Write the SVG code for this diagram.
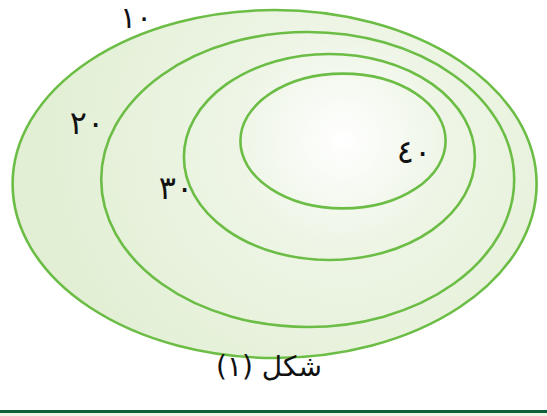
<svg xmlns="http://www.w3.org/2000/svg" width="547" height="416" viewBox="0 0 547 416">
<style>
.ring{stroke:#6cbd45;stroke-width:2.6}
.lbl{font-family:"DejaVu Sans",sans-serif;font-size:32px;fill:#111}
.cap{font-family:"DejaVu Sans",sans-serif;font-size:28px;fill:#111}
</style>
<defs>
<radialGradient id="g" gradientUnits="userSpaceOnUse" cx="342" cy="140" r="300">
<stop offset="0" stop-color="#ffffff"/>
<stop offset="0.35" stop-color="#eef5e6"/>
<stop offset="1" stop-color="#e2efd4"/>
</radialGradient>
</defs>
<rect width="547" height="416" fill="#fff"/>
<g id="ring10"><ellipse class="ring" cx="274.6" cy="184" rx="262" ry="174" fill="url(#g)"/></g>
<g id="ring20"><ellipse class="ring" cx="307.7" cy="179.5" rx="206.5" ry="147.5" fill="url(#g)"/></g>
<g id="ring30"><ellipse class="ring" cx="329.4" cy="157" rx="145.5" ry="103" fill="url(#g)"/></g>
<g id="ring40"><ellipse class="ring" cx="343" cy="141" rx="102.6" ry="67.4" fill="url(#g)"/></g>
<g id="labels">
<text class="lbl" x="136" y="28" text-anchor="middle" style="font-size:30px">١٠</text>
<text class="lbl" x="87" y="134" text-anchor="middle">٢٠</text>
<text class="lbl" x="176" y="199" text-anchor="middle">٣٠</text>
<text class="lbl" x="414" y="163" text-anchor="middle">٤٠</text>
</g>
<g id="caption"><text class="cap" x="269" y="376" text-anchor="middle" direction="rtl" style="unicode-bidi:embed">شكل (١)</text></g>
<line x1="0" y1="411.5" x2="547" y2="411.5" stroke="#0e5e3a" stroke-width="3"/>
<rect x="0" y="413" width="547" height="3" fill="#eef3e4"/>
</svg>
